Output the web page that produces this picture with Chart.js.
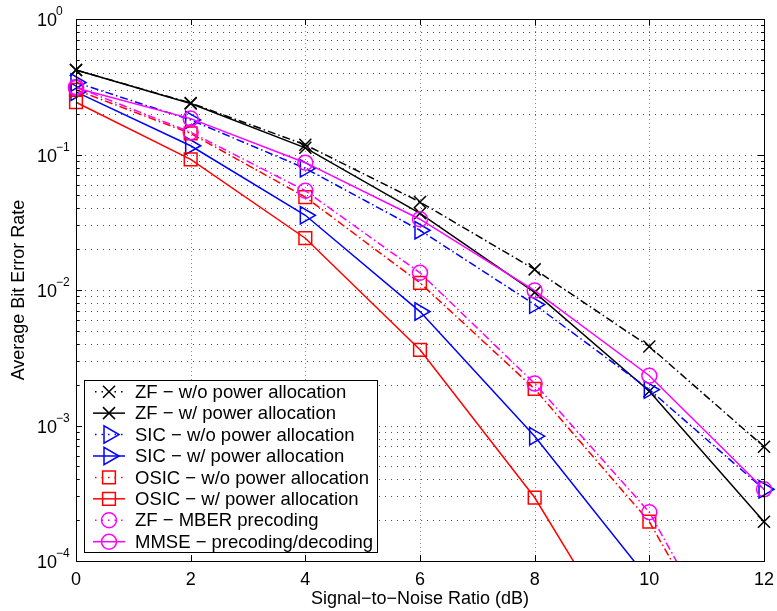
<!DOCTYPE html>
<html><head><meta charset="utf-8">
<style>html,body{margin:0;padding:0;background:#fff;} canvas{display:block;}</style>
<script src="https://cdn.jsdelivr.net/npm/chart.js@4/dist/chart.umd.min.js"></script>
</head><body>
<canvas id="c" width="777" height="611"></canvas>
<script>
// ---- data ----
const snr = [0, 2, 4, 6, 8, 10, 12];
const xTicks = [0, 2, 4, 6, 8, 10, 12];
const yDecades = [1e-4, 1e-3, 1e-2, 1e-1, 1];
const yExponents = ['−4', '−3', '−2', '−1', '0'];

const zfWo   = [0.42, 0.240, 0.118, 0.0446, 0.0142, 0.00383, 0.000697];
const zfW    = [0.42, 0.238, 0.112, 0.0368, 0.0096, 0.00179, 0.000195];
const sicWo  = [0.34, 0.180, 0.079, 0.0276, 0.0078, 0.00184, 0.000338];
const sicW   = [0.29, 0.116, 0.0356, 0.00693, 0.000834, 0.000072, null];
const osicWo = [0.30, 0.143, 0.0485, 0.0113, 0.00186, 0.000195, 0.0000063];
const osicW  = [0.243, 0.092, 0.0241, 0.00362, 0.000294, 0.000012, null];
const zfMber = [0.315, 0.146, 0.054, 0.0134, 0.00204, 0.000229, 0.0000068];
const mmse   = [0.31, 0.184, 0.087, 0.0333, 0.0099, 0.00233, 0.000338];

const seriesNames = [
  'ZF − w/o power allocation',
  'ZF − w/ power allocation',
  'SIC − w/o power allocation',
  'SIC − w/ power allocation',
  'OSIC − w/o power allocation',
  'OSIC − w/ power allocation',
  'ZF − MBER precoding',
  'MMSE − precoding/decoding'
];
const xTitle = 'Signal−to−Noise Ratio (dB)';
const yTitle = 'Average Bit Error Rate';

// ---- styles ----
const FONT = '"Liberation Sans", Arial, Helvetica, sans-serif';
const DASHDOT = [8, 3, 1.5, 3];
const styles = [
  {c:'#000000', dash:DASHDOT, ps:'crossRot', r:8.5, rot:0},
  {c:'#000000', dash:[],      ps:'crossRot', r:8.5, rot:0},
  {c:'#0000ff', dash:DASHDOT, ps:'triangle', r:10, rot:90},
  {c:'#0000ff', dash:[],      ps:'triangle', r:10, rot:90},
  {c:'#ff0000', dash:DASHDOT, ps:'rect',     r:9, rot:0},
  {c:'#ff0000', dash:[],      ps:'rect',     r:9, rot:0},
  {c:'#ff00ff', dash:DASHDOT, ps:'circle',   r:7.5, rot:0},
  {c:'#ff00ff', dash:[],      ps:'circle',   r:7.5, rot:0}
];
const seriesData = [zfWo, zfW, sicWo, sicW, osicWo, osicW, zfMber, mmse];

function pts(arr){ return snr.map((x,i)=>({x:x, y:arr[i]})); }

const datasets = seriesData.map((arr,i)=>({
  label: seriesNames[i],
  data: pts(arr),
  borderColor: styles[i].c,
  borderWidth: 1.5,
  borderDash: styles[i].dash,
  tension: 0,
  fill: false,
  spanGaps: false,
  pointStyle: styles[i].ps,
  pointRadius: styles[i].r,
  pointHoverRadius: styles[i].r,
  pointRotation: styles[i].rot,
  pointBackgroundColor: 'rgba(0,0,0,0)',
  pointBorderColor: styles[i].c,
  pointBorderWidth: 1.5,
  clip: {left: 15, top: 15, right: 15, bottom: 0},
  order: 10 - i
}));

function drawMarker(ctx, ps, x, y, r, color){
  ctx.save();
  ctx.strokeStyle = color; ctx.lineWidth = 1.5; ctx.setLineDash([]);
  ctx.beginPath();
  if (ps === 'crossRot'){
    const o = r*Math.SQRT1_2;
    ctx.moveTo(x-o,y-o); ctx.lineTo(x+o,y+o);
    ctx.moveTo(x-o,y+o); ctx.lineTo(x+o,y-o);
  } else if (ps === 'triangle'){
    ctx.moveTo(x+r, y);
    ctx.lineTo(x-0.5*r, y+0.866*r);
    ctx.lineTo(x-0.5*r, y-0.866*r);
    ctx.closePath();
  } else if (ps === 'rect'){
    const h = r*Math.SQRT1_2;
    ctx.rect(x-h, y-h, 2*h, 2*h);
  } else {
    ctx.arc(x, y, r, 0, Math.PI*2);
  }
  ctx.stroke();
  ctx.restore();
}

const decorPlugin = {
  id: 'decor',
  beforeDatasetsDraw(chart){
    const {ctx, chartArea:a, scales:{x, y}} = chart;
    ctx.save();
    ctx.lineWidth = 1;
    // vertical grid at major x ticks
    ctx.strokeStyle = 'rgba(0,0,0,0.45)';
    ctx.setLineDash([1, 3]);
    xTicks.forEach(v=>{
      if (v<=x.min || v>=x.max) return;
      const px = Math.round(x.getPixelForValue(v)) + 0.5;
      ctx.beginPath(); ctx.moveTo(px, a.top); ctx.lineTo(px, a.bottom); ctx.stroke();
    });
    // horizontal grid at all log ticks
    ctx.strokeStyle = 'rgba(0,0,0,0.7)';
    ctx.setLineDash([1, 5]);
    for (let k = -4; k <= -1; k++){
      for (let m = 1; m <= 9; m++){
        const v = m*Math.pow(10,k);
        if (v<=y.min*1.0001 || v>=y.max*0.9999) continue;
        const py = Math.round(y.getPixelForValue(v)) + 0.5;
        ctx.beginPath(); ctx.moveTo(a.left+3, py); ctx.lineTo(a.right, py); ctx.stroke();
      }
    }
    ctx.restore();
  },
  afterDatasetsDraw(chart){
    const {ctx, chartArea:a, scales:{x, y}} = chart;
    ctx.save();
    ctx.setLineDash([]);
    ctx.strokeStyle = '#000';
    ctx.lineWidth = 1;
    // box
    ctx.strokeRect(Math.round(a.left)+0.5, Math.round(a.top)+0.5,
                   Math.round(a.right-a.left), Math.round(a.bottom-a.top));
    // x ticks (inward, top & bottom)
    ctx.beginPath();
    xTicks.forEach(v=>{
      const px = Math.round(x.getPixelForValue(v)) + 0.5;
      ctx.moveTo(px, a.bottom); ctx.lineTo(px, a.bottom-6);
      ctx.moveTo(px, a.top); ctx.lineTo(px, a.top+6);
    });
    // y ticks
    for (let k = -4; k <= 0; k++){
      for (let m = 1; m <= 9; m++){
        const v = m*Math.pow(10,k);
        if (v>y.max*1.0001) continue;
        const py = Math.round(y.getPixelForValue(v)) + 0.5;
        const len = (m===1) ? 6 : 3;
        ctx.moveTo(a.left, py); ctx.lineTo(a.left+len, py);
        ctx.moveTo(a.right, py); ctx.lineTo(a.right-len, py);
      }
    }
    ctx.stroke();

    // tick labels
    ctx.fillStyle = '#000';
    ctx.font = '18px ' + FONT;
    ctx.textAlign = 'center';
    ctx.textBaseline = 'alphabetic';
    xTicks.forEach(v=>{
      ctx.fillText(String(v), x.getPixelForValue(v), a.bottom + 24);
    });
    yDecades.forEach((v,i)=>{
      const py = y.getPixelForValue(v);
      ctx.font = '18px ' + FONT;
      ctx.textAlign = 'left';
      ctx.fillText('10', 37, py + 7);
      ctx.font = '12px ' + FONT;
      ctx.fillText(yExponents[i], 56, py - 4);
    });

    // axis titles
    ctx.font = '18px ' + FONT;
    ctx.textAlign = 'center';
    ctx.fillText(xTitle, (a.left+a.right)/2, 604);
    ctx.save();
    ctx.translate(24, (a.top+a.bottom)/2);
    ctx.rotate(-Math.PI/2);
    ctx.fillText(yTitle, 0, 0);
    ctx.restore();

    // legend
    const L = 84.5, T = 380.5, W = 293, H = 172;
    ctx.fillStyle = '#fff';
    ctx.fillRect(L, T, W, H);
    ctx.strokeStyle = '#000';
    ctx.lineWidth = 1;
    ctx.strokeRect(L, T, W, H);
    seriesNames.forEach((name,i)=>{
      const ry = 391.7 + i*21.43;
      const st = styles[i];
      ctx.save();
      ctx.strokeStyle = st.c; ctx.lineWidth = 1.5;
      if (st.dash.length){
        // dash-dot sample: short dots at ends around the marker
        ctx.setLineDash([1.5, 5]);
        ctx.lineDashOffset = -2;
      }
      ctx.beginPath(); ctx.moveTo(93, ry); ctx.lineTo(125, ry); ctx.stroke();
      ctx.restore();
      drawMarker(ctx, st.ps, 109, ry, st.r, st.c);
      ctx.fillStyle = '#000';
      ctx.font = '18.5px ' + FONT;
      ctx.textAlign = 'left';
      ctx.textBaseline = 'middle';
      ctx.fillText(name, 135, ry + 1);
    });
    ctx.restore();
  }
};

new Chart(document.getElementById('c'), {
  type: 'line',
  data: { datasets: datasets },
  options: {
    responsive: false,
    animation: false,
    devicePixelRatio: 1,
    layout: { padding: { top: 19, right: 13, left: 0, bottom: 0 } },
    plugins: { legend: { display: false }, tooltip: { enabled: false } },
    events: [],
    scales: {
      x: {
        type: 'linear', min: 0, max: 12,
        ticks: { display: false, stepSize: 2 },
        grid: { display: false }, border: { display: false },
        afterFit: s => { s.height = 50; }
      },
      y: {
        type: 'logarithmic', min: 1e-4, max: 1,
        ticks: { display: false },
        grid: { display: false }, border: { display: false },
        afterFit: s => { s.width = 76; }
      }
    }
  },
  plugins: [decorPlugin]
});
</script>
</body></html>
